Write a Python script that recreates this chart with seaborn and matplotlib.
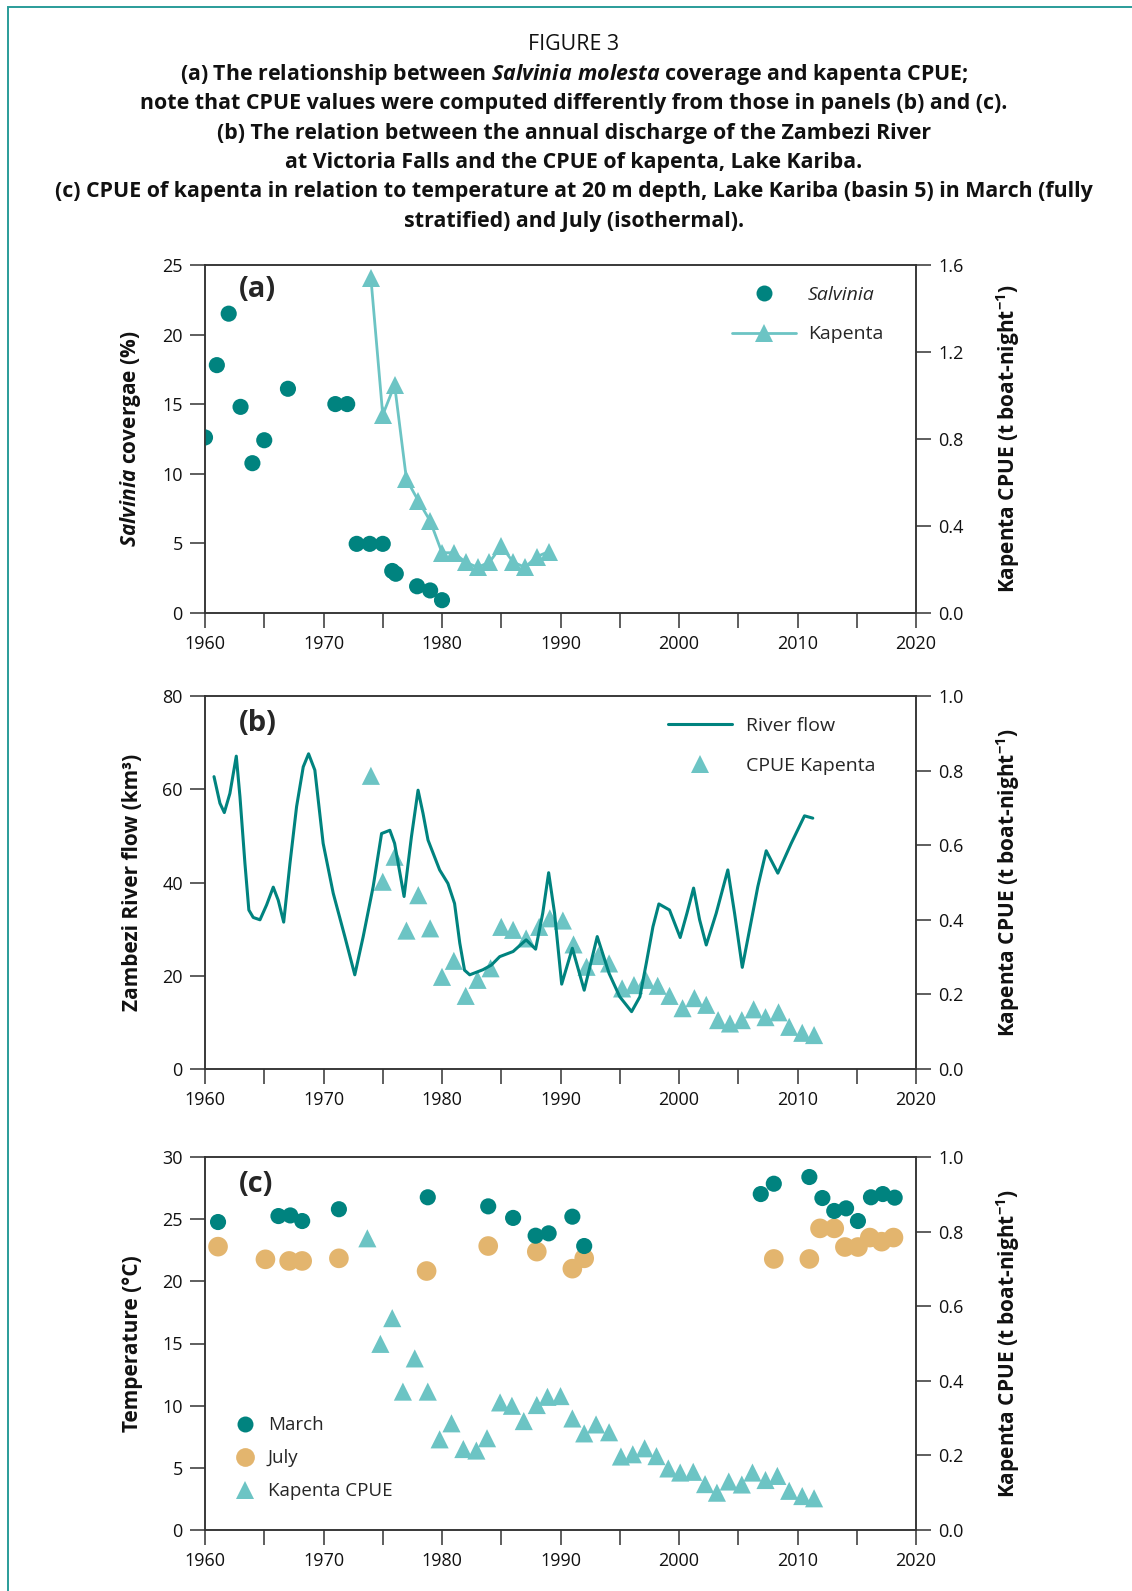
import numpy as np
import pandas as pd
import matplotlib
matplotlib.use("Agg")
import matplotlib.pyplot as plt
from matplotlib.lines import Line2D
import seaborn as sns

# ---------------- data ----------------
# Panel (a)
salv_year = [1960.0, 1961.0, 1962.0, 1963.0, 1964.0, 1965.0, 1967.0, 1971.0, 1972.0,
             1972.8, 1973.9, 1975.0, 1975.8, 1976.1, 1977.9, 1979.0, 1980.0]
salv_cover = [12.6, 17.8, 21.5, 14.8, 10.75, 12.4, 16.1, 15.0, 15.0,
              4.95, 4.95, 4.95, 3.0, 2.8, 1.9, 1.6, 0.9]
kapa_year = [1974, 1975, 1976, 1977, 1978, 1979, 1980, 1981, 1982, 1983, 1984,
             1985, 1986, 1987, 1988, 1989]
kapa_cpue = [1.54, 0.91, 1.048, 0.614, 0.515, 0.422, 0.276, 0.276, 0.232, 0.209, 0.232,
             0.307, 0.233, 0.209, 0.258, 0.281]

# Panel (b)
flow_year = [1960.76, 1961.26, 1961.63, 1962.1, 1962.64, 1962.95, 1963.37, 1963.7, 1964.07,
             1964.64, 1965.2, 1965.76, 1966.18, 1966.64, 1967.17, 1967.73, 1968.29, 1968.74,
             1969.27, 1969.97, 1970.82, 1971.8, 1972.64, 1973.35, 1974.19, 1974.9, 1975.6,
             1976.0, 1976.8, 1977.42, 1977.98, 1978.4, 1978.82, 1979.8, 1980.5, 1981.06,
             1981.5, 1981.9, 1982.34, 1983.46, 1984.17, 1984.87, 1986.0, 1987.1, 1987.9,
             1988.5, 1989.0, 1989.5, 1990.1, 1991.0, 1992.0, 1993.1, 1994.1, 1995.0, 1996.0,
             1996.7, 1997.24, 1997.8, 1998.3, 1999.2, 2000.1, 2000.67, 2001.23, 2001.74,
             2002.3, 2003.14, 2004.12, 2004.69, 2005.34, 2005.95, 2006.65, 2007.36, 2008.34,
             2009.47, 2010.59, 2011.29]
flow_km3 = [62.7, 57.0, 55.0, 59.1, 67.1, 58.4, 44.1, 34.1, 32.5,
            32.0, 35.2, 39.0, 36.2, 31.5, 44.1, 56.3, 64.8, 67.6,
            64.1, 48.4, 37.7, 28.4, 20.2, 28.4, 39.1, 50.5, 51.2,
            48.4, 37.0, 49.8, 59.8, 54.8, 49.1, 42.7, 39.8, 35.5,
            27.0, 21.2, 20.2, 21.3, 22.3, 24.1, 25.2, 27.7, 25.7,
            33.4, 42.1, 33.4, 18.2, 25.9, 16.9, 28.4, 20.5, 15.5, 12.3,
            15.5, 22.7, 30.5, 35.4, 34.1, 28.2, 33.4, 38.8, 32.0,
            26.6, 33.4, 42.7, 33.4, 21.8, 29.8, 39.1, 46.8, 42.0,
            48.4, 54.3, 53.8]
cpueb_year = [1974, 1975, 1976, 1977, 1978, 1979, 1980, 1981, 1982, 1983, 1984.1,
              1985, 1986, 1987.1, 1988.2, 1989.1, 1990.2, 1991.1, 1992.2, 1993.2, 1994.1,
              1995.2, 1996.2, 1997.2, 1998.2, 1999.2, 2000.3, 2001.3, 2002.3, 2003.3, 2004.3,
              2005.3, 2006.3, 2007.3, 2008.4, 2009.3, 2010.4, 2011.4]
cpueb_val = [0.786, 0.502, 0.569, 0.371, 0.466, 0.377, 0.247, 0.290, 0.196, 0.239, 0.270,
             0.381, 0.373, 0.350, 0.381, 0.404, 0.398, 0.334, 0.274, 0.303, 0.283,
             0.216, 0.225, 0.239, 0.223, 0.196, 0.163, 0.190, 0.172, 0.131, 0.122,
             0.131, 0.160, 0.139, 0.152, 0.113, 0.097, 0.091]

# Panel (c)
march_year = [1961.1, 1966.2, 1967.2, 1968.2, 1971.3, 1978.8, 1983.9, 1986.0, 1987.9, 1989.0,
              1991.0, 1992.0, 2006.9, 2008.0, 2011.0, 2012.1, 2013.1, 2014.1, 2015.1, 2016.2,
              2017.2, 2018.2]
march_temp = [24.77, 25.25, 25.3, 24.85, 25.8, 26.76, 26.03, 25.1, 23.67, 23.86,
              25.2, 22.84, 27.02, 27.85, 28.39, 26.7, 25.66, 25.87, 24.85, 26.76,
              27.02, 26.73]
july_year = [1961.1, 1965.1, 1967.1, 1968.2, 1971.3, 1978.7, 1983.9, 1988.0, 1991.0, 1992.0,
             2008.0, 2011.0, 2011.9, 2013.1, 2014.0, 2015.1, 2016.1, 2017.1, 2018.1]
july_temp = [22.79, 21.77, 21.64, 21.64, 21.85, 20.83, 22.84, 22.39, 21.02, 21.85,
             21.8, 21.8, 24.26, 24.26, 22.76, 22.76, 23.52, 23.19, 23.52]
cpuec_year = [1973.7, 1974.8, 1975.8, 1976.7, 1977.7, 1978.8, 1979.8, 1980.8, 1981.8, 1982.9,
              1983.8, 1984.9, 1985.9, 1986.9, 1988.0, 1988.9, 1990.0, 1991.0, 1992.0, 1993.0,
              1994.1, 1995.1, 1996.1, 1997.1, 1998.1, 1999.1, 2000.1, 2001.2, 2002.2, 2003.2,
              2004.2, 2005.3, 2006.2, 2007.3, 2008.3, 2009.3, 2010.4, 2011.4]
cpuec_val = [0.782, 0.499, 0.568, 0.371, 0.460, 0.371, 0.243, 0.286, 0.217, 0.213,
             0.246, 0.342, 0.333, 0.292, 0.335, 0.357, 0.359, 0.299, 0.259, 0.283,
             0.262, 0.197, 0.203, 0.219, 0.198, 0.165, 0.154, 0.156, 0.123, 0.100,
             0.130, 0.122, 0.154, 0.134, 0.145, 0.105, 0.091, 0.085]

title_lines = [
    "FIGURE 3",
    r"(a) The relationship between $\mathit{Salvinia\ molesta}$ coverage and kapenta CPUE;",
    "note that CPUE values were computed differently from those in panels (b) and (c).",
    "(b) The relation between the annual discharge of the Zambezi River",
    "at Victoria Falls and the CPUE of kapenta, Lake Kariba.",
    "(c) CPUE of kapenta in relation to temperature at 20 m depth, Lake Kariba (basin 5) in March (fully",
    "stratified) and July (isothermal).",
]
xticks_major = [1960, 1965, 1970, 1975, 1980, 1985, 1990, 1995, 2000, 2005, 2010, 2015, 2020]
xtick_labels = ["1960", "", "1970", "", "1980", "", "1990", "", "2000", "", "2010", "", "2020"]

# ---------------- style ----------------
sns.set_theme(style="ticks")
FONT = "Open Sans"
plt.rcParams["font.family"] = [FONT, "DejaVu Sans"]
plt.rcParams["mathtext.fontset"] = "custom"
plt.rcParams["mathtext.rm"] = "Open Sans:bold"
plt.rcParams["mathtext.it"] = "Open Sans:italic:bold"
plt.rcParams["mathtext.bf"] = "Open Sans:bold"

DARK = "#00837f"
LIGHT = "#6cc4c4"
TAN = "#e3b56e"
AXC = "#333333"

W, H = 1132, 1591
fig = plt.figure(figsize=(W / 100, H / 100), dpi=100)

# teal frame
fig.add_artist(plt.Rectangle((7.5 / W, -0.1), 1.2, 1.1 - 7 / H, transform=fig.transFigure,
                             fill=False, edgecolor="#2a9c99", linewidth=1.4))

# title
y0 = 1 - 45 / H
for i, line in enumerate(title_lines):
    fig.text(574 / W, y0 - i * 29.4 / H, line, ha="center", va="center",
             fontsize=15.4, fontweight="normal" if i == 0 else "bold", color="#111111")

left = 205 / W
width = (916 - 205) / W
panels = [(265, 612.7), (696, 1069), (1157, 1530)]
axes = []
for top, bot in panels:
    ax = fig.add_axes([left, 1 - bot / H, width, (bot - top) / H])
    axes.append(ax)

TICKLEN = 11
LABEL_FS = 15
LEG_FS = 14


def style_axes(ax, ax2, ylim, yticks, ylim2, yticks2):
    ax.set_xlim(1960, 2020)
    ax.set_ylim(*ylim)
    ax.set_yticks(yticks)
    ax.set_xticks(xticks_major)
    ax.set_xticklabels(xtick_labels)
    ax2.set_ylim(*ylim2)
    ax2.set_yticks(yticks2)
    ax2.set_yticklabels([f"{v:.1f}" for v in yticks2])
    for a in (ax, ax2):
        for s in a.spines.values():
            s.set_visible(True)
            s.set_color(AXC)
            s.set_linewidth(1.1)
        a.tick_params(direction="out", length=TICKLEN, width=1.1, color=AXC,
                      labelsize=13, labelcolor="#111111", pad=5)
    ax.set_xlabel("")
    ax2.set_xlabel("")
    ax2.set_ylabel(r"Kapenta CPUE (t boat-night$^{\mathbf{-1}}$)", fontsize=LABEL_FS,
                   fontweight="bold", labelpad=22, color="#111111")


# ---------- Panel (a) ----------
ax = axes[0]
ax2 = ax.twinx()
dfa = pd.DataFrame({"year": salv_year, "cover": salv_cover})
sns.scatterplot(data=dfa, x="year", y="cover", ax=ax, color=DARK, s=135,
                edgecolor="none", linewidth=0, zorder=3)
dfk = pd.DataFrame({"year": kapa_year, "cpue": kapa_cpue})
sns.lineplot(data=dfk, x="year", y="cpue", ax=ax2, color=LIGHT, linewidth=2.0,
             marker="^", markersize=13, markeredgewidth=0, markerfacecolor=LIGHT)
style_axes(ax, ax2, (0, 25), [0, 5, 10, 15, 20, 25], (0, 1.6), [0.0, 0.4, 0.8, 1.2, 1.6])
ax.set_ylabel(r"$\mathit{Salvinia}$ covergae (%)", fontsize=LABEL_FS, fontweight="bold",
              labelpad=14, color="#111111")
ax.text(0.047, 0.93, "(a)", transform=ax.transAxes, fontsize=21, fontweight="bold",
        va="center", ha="left")
h = [Line2D([], [], color=DARK, marker="o", linestyle="none", markersize=11.5,
            markeredgewidth=0),
     Line2D([], [], color=LIGHT, marker="^", linewidth=2.0, markersize=13, markeredgewidth=0)]
leg = ax2.legend(h, ["Salvinia", "Kapenta"], loc="upper left", bbox_to_anchor=(0.717, 0.99),
                 frameon=False, fontsize=LEG_FS, handlelength=3.3, labelspacing=1.1,
                 handletextpad=0.6)
leg.get_texts()[0].set_fontstyle("italic")

# ---------- Panel (b) ----------
ax = axes[1]
ax2 = ax.twinx()
dff = pd.DataFrame({"year": flow_year, "flow": flow_km3})
sns.lineplot(data=dff, x="year", y="flow", ax=ax, color=DARK, linewidth=2.2, zorder=3)
dfb = pd.DataFrame({"year": cpueb_year, "cpue": cpueb_val})
sns.scatterplot(data=dfb, x="year", y="cpue", ax=ax2, color=LIGHT, marker="^", s=170,
                edgecolor="none", linewidth=0)
ax.set_zorder(ax2.get_zorder() + 1)
ax.patch.set_visible(False)
style_axes(ax, ax2, (0, 80), [0, 20, 40, 60, 80], (0, 1.0), [0.0, 0.2, 0.4, 0.6, 0.8, 1.0])
ax.set_ylabel("Zambezi River flow (km³)", fontsize=LABEL_FS, fontweight="bold",
              labelpad=14, color="#111111")
ax.text(0.047, 0.925, "(b)", transform=ax.transAxes, fontsize=21, fontweight="bold",
        va="center", ha="left")
h = [Line2D([], [], color=DARK, linewidth=2.2),
     Line2D([], [], color=LIGHT, marker="^", linestyle="none", markersize=13, markeredgewidth=0)]
ax.legend(h, ["River flow", "CPUE Kapenta"], loc="upper left", bbox_to_anchor=(0.627, 0.99),
          frameon=False, fontsize=LEG_FS, handlelength=3.3, labelspacing=1.1,
          handletextpad=0.7)

# ---------- Panel (c) ----------
ax = axes[2]
ax2 = ax.twinx()
dfm = pd.DataFrame({"year": march_year, "temp": march_temp})
dfj = pd.DataFrame({"year": july_year, "temp": july_temp})
sns.scatterplot(data=dfj, x="year", y="temp", ax=ax, color=TAN, s=200,
                edgecolor="none", linewidth=0, zorder=3)
sns.scatterplot(data=dfm, x="year", y="temp", ax=ax, color=DARK, s=135,
                edgecolor="none", linewidth=0, zorder=4)
dfc = pd.DataFrame({"year": cpuec_year, "cpue": cpuec_val})
sns.scatterplot(data=dfc, x="year", y="cpue", ax=ax2, color=LIGHT, marker="^", s=170,
                edgecolor="none", linewidth=0)
style_axes(ax, ax2, (0, 30), [0, 5, 10, 15, 20, 25, 30], (0, 1.0),
           [0.0, 0.2, 0.4, 0.6, 0.8, 1.0])
ax.set_ylabel("Temperature (°C)", fontsize=LABEL_FS, fontweight="bold",
              labelpad=14, color="#111111")
ax.text(0.047, 0.925, "(c)", transform=ax.transAxes, fontsize=21, fontweight="bold",
        va="center", ha="left")
h = [Line2D([], [], color=DARK, marker="o", linestyle="none", markersize=11.5, markeredgewidth=0),
     Line2D([], [], color=TAN, marker="o", linestyle="none", markersize=13.5, markeredgewidth=0),
     Line2D([], [], color=LIGHT, marker="^", linestyle="none", markersize=13, markeredgewidth=0)]
ax2.legend(h, ["March", "July", "Kapenta CPUE"], loc="lower left", bbox_to_anchor=(0.013, 0.035),
           frameon=False, fontsize=13.5, handlelength=1.5, labelspacing=0.8,
           handletextpad=0.45)

fig.savefig("out.png", dpi=100)
